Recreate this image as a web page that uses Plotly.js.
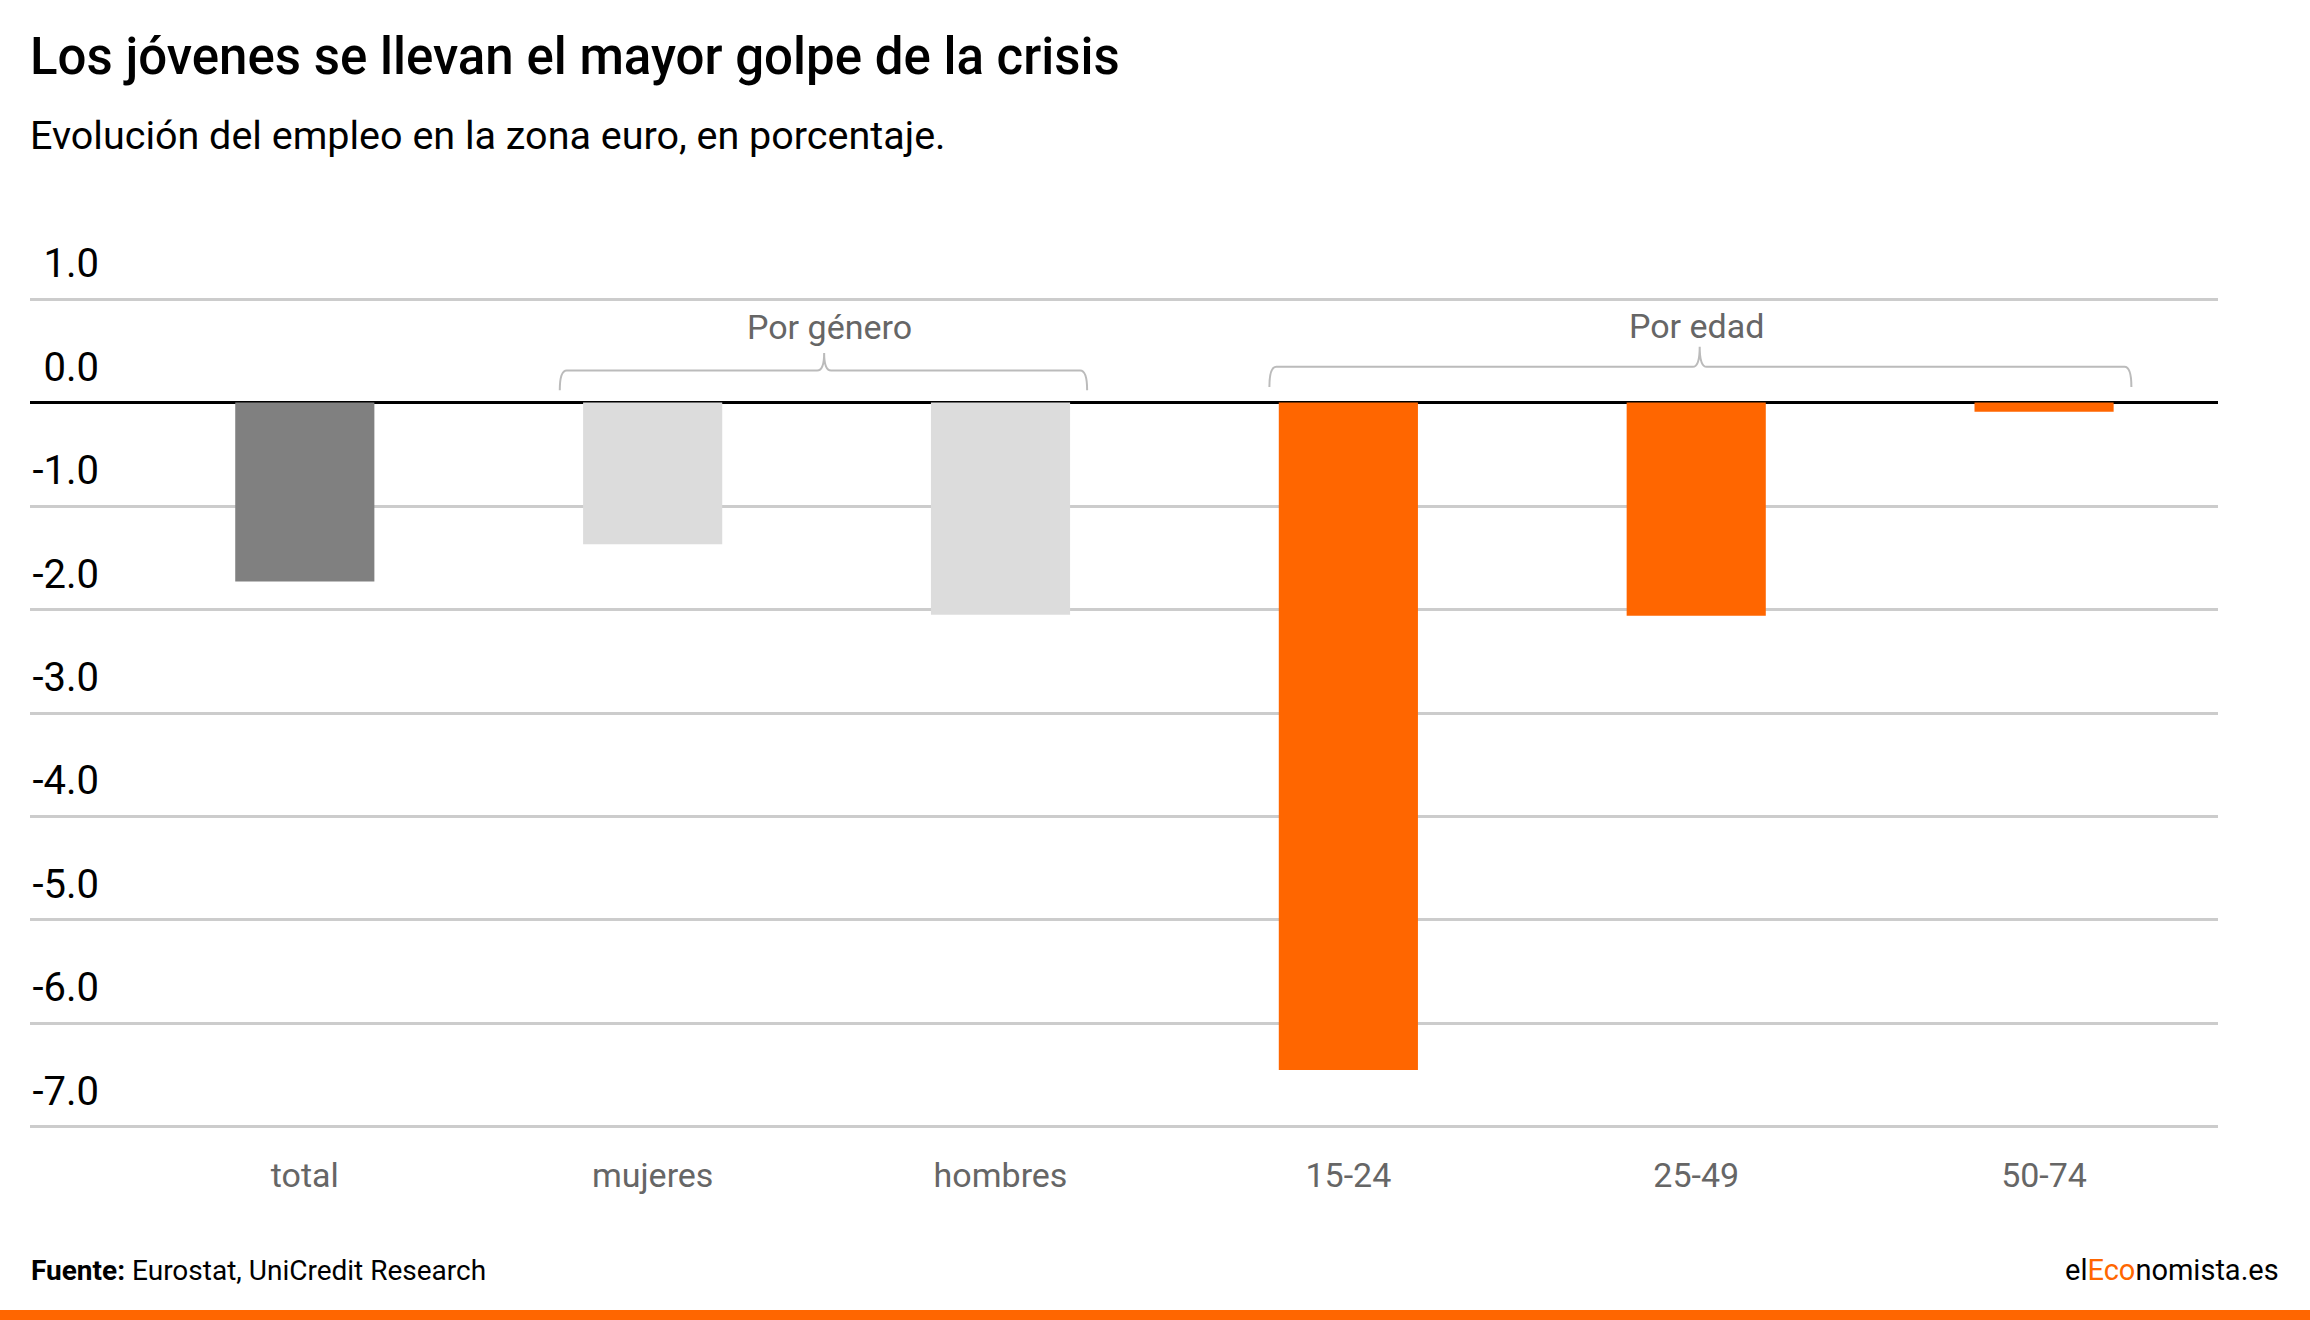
<!DOCTYPE html>
<html>
<head>
<meta charset="utf-8">
<script src="https://cdn.plot.ly/plotly-3.0.1.min.js"></script>
<style>html,body{margin:0;padding:0;background:#fff;}#chart{width:2310px;height:1320px;}</style>
</head>
<body>
<div id="chart"></div>
<script>
// ---- data ----
const categories = ["total", "mujeres", "hombres", "15-24", "25-49", "50-74"];
const values = [-1.73, -1.37, -2.05, -6.45, -2.06, -0.09];
const yTickVals = [1, 0, -1, -2, -3, -4, -5, -6, -7];
const yTickText = ["1.0", "0.0", "-1.0", "-2.0", "-3.0", "-4.0", "-5.0", "-6.0", "-7.0"];
const groupLabels = ["Por género", "Por edad"];

// ---- geometry helpers (pixel -> paper) ----
const W = 2310, H = 1320;
const M = {l: 30, r: 92, t: 297, b: 191};
const PW = W - M.l - M.r, PH = H - M.t - M.b;
const px = p => (p - M.l) / PW;
const py = p => (H - M.b - p) / PH;

const ORANGE = "#ff6600";

const trace = {
  type: "bar",
  x: categories,
  y: values,
  width: 0.4,
  marker: {color: ["#808080", "#dcdcdc", "#dcdcdc", ORANGE, ORANGE, ORANGE], line: {width: 0}},
  hoverinfo: "x+y"
};

function bracket(x0, x1, xm, yEnd, yH, yTop) {
  const d = 0.02;
  return "M " + x0 + "," + yEnd +
    " Q " + x0 + "," + yH + " " + (x0 + d) + "," + yH +
    " L " + (xm - d) + "," + yH +
    " Q " + xm + "," + yH + " " + xm + "," + yTop +
    " Q " + xm + "," + yH + " " + (xm + d) + "," + yH +
    " L " + (x1 - d) + "," + yH +
    " Q " + x1 + "," + yH + " " + x1 + "," + yEnd;
}

const layout = {
  width: W, height: H,
  margin: M,
  paper_bgcolor: "#ffffff",
  plot_bgcolor: "#ffffff",
  showlegend: false,
  font: {family: "Roboto, 'Noto Sans', sans-serif", color: "#000"},
  title: {
    text: "Los jóvenes se llevan el mayor golpe de la crisis",
    font: {family: "Roboto", size: 51, weight: 500, color: "#000"},
    x: 30 / W, xanchor: "left", xref: "container",
    y: 1 - 56 / H, yanchor: "middle", yref: "container"
  },
  xaxis: {
    type: "category",
    range: [-0.79, 5.5],
    showgrid: false,
    zeroline: false,
    showline: false,
    ticks: "",
    tickfont: {family: "Roboto", size: 34, color: "#666666"},
    ticklabelstandoff: 23,
    fixedrange: true
  },
  yaxis: {
    range: [-7.02, 1.02],
    tickmode: "array",
    tickvals: yTickVals,
    ticktext: yTickText,
    showgrid: true,
    gridcolor: "#cccccc",
    gridwidth: 3,
    zeroline: true,
    zerolinecolor: "#000000",
    zerolinewidth: 3,
    showline: false,
    ticks: "",
    tickfont: {family: "Roboto", size: 40, color: "#000"},
    ticklabelposition: "outside",
    ticklabelstandoff: -70,
    ticklabelshift: -36,
    fixedrange: true
  },
  shapes: [
    {type: "path", xref: "x", yref: "y", path: bracket(0.733, 2.249, 1.493, 0.12, 0.31, 0.48),
     line: {color: "#bbbbbb", width: 2}},
    {type: "path", xref: "x", yref: "y", path: bracket(2.773, 5.251, 4.01, 0.15, 0.345, 0.54),
     line: {color: "#bbbbbb", width: 2}},
    {type: "rect", xref: "paper", yref: "paper", x0: px(0), x1: px(W), y0: py(1320), y1: py(1310),
     fillcolor: ORANGE, line: {width: 0}, layer: "above"}
  ],
  annotations: [
    {text: "Evolución del empleo en la zona euro, en porcentaje.", xref: "paper", yref: "paper",
     x: px(28), y: py(136), xanchor: "left", yanchor: "middle", showarrow: false,
     font: {family: "Roboto", size: 39.5, color: "#000"}},
    {text: groupLabels[0], xref: "x", yref: "y", x: 1.507, y: 0.73, showarrow: false,
     xanchor: "center", yanchor: "middle", font: {family: "Roboto", size: 34, color: "#666666"}},
    {text: groupLabels[1], xref: "x", yref: "y", x: 4.0, y: 0.74, showarrow: false,
     xanchor: "center", yanchor: "middle", font: {family: "Roboto", size: 34, color: "#666666"}},
    {text: "<b>Fuente:</b> Eurostat, UniCredit Research", xref: "paper", yref: "paper",
     x: px(29), y: py(1270), xanchor: "left", yanchor: "middle", showarrow: false,
     font: {family: "Roboto", size: 28, color: "#000"}},
    {text: "el<span style='color:" + ORANGE + "'>Eco</span>nomista.es", xref: "paper", yref: "paper",
     x: px(2281), y: py(1270), xanchor: "right", yanchor: "middle", showarrow: false,
     font: {family: "Roboto", size: 29, color: "#000"}}
  ]
};

Plotly.newPlot("chart", [trace], layout, {displayModeBar: false, staticPlot: true});
</script>
</body>
</html>
